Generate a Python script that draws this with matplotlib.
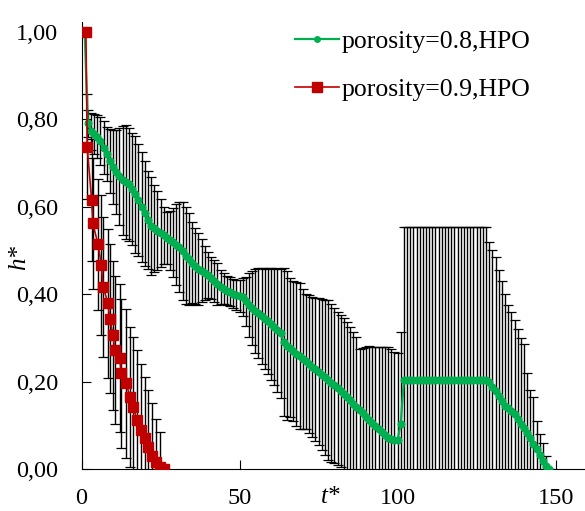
import numpy as np
import matplotlib
matplotlib.use("Agg")
import matplotlib.pyplot as plt

plt.rcParams['font.family'] = ['Liberation Serif', 'DejaVu Serif']

# porosity = 0.8 (green), one point per unit of t*
t_green = np.arange(1, 149)
h_green = [1.0, .79, .772, .766, .76, .75, .735, .72, .705, .691,
           .68, .669, .66, .656, .651, .64, .628, .614, .599, .585,
           .57, .556, .55, .545, .54, .534, .528, .523, .518, .513,
           .508, .498, .488, .48, .472, .465, .458, .453, .448, .443,
           .437, .43, .422, .416, .412, .408, .405, .401, .398, .396,
           .393, .383, .374, .368, .362, .356, .35, .343, .338, .332,
           .325, .318, .31, .29, .282, .277, .27, .263, .258, .252,
           .246, .24, .234, .228, .222, .216, .21, .203, .197, .191,
           .185, .179, .172, .165, .157, .149, .142, .135, .127, .12,
           .113, .106, .099, .092, .085, .078, .072, .068, .067, .066,
           .104,
           .203, .203, .203, .203, .203, .203, .203, .203, .203, .203,
           .203, .203, .203, .203, .203, .203, .203, .203, .203, .203,
           .203, .203, .203, .203, .203, .203, .203,
           .198, .188, .178, .167, .155, .145, .139, .133, .125, .115,
           .104, .094, .082, .07, .058, .045, .032, .018, .008, 0.0]
# upper end of the error bars (bars are symmetric)
h_green_up = [1.0, .82, .815, .812, .81, .805, .795, .782, .778, .775,
              .776, .78, .784, .786, .78, .768, .762, .742, .725, .705,
              .682, .668, .65, .635, .618, .60, .587, .59, .596, .605,
              .611, .61, .598, .585, .565, .552, .54, .525, .51, .495,
              .485, .478, .47, .455, .447, .442, .438, .434, .433, .433,
              .436, .44, .447, .453, .458, .459, .46, .458, .459, .46,
              .457, .459, .458, .459, .452, .436, .43, .427, .425, .412,
              .40, .397, .394, .392, .39, .388, .387, .386, .377, .368,
              .36, .353, .346, .336, .325, .314, .302, .274, .277, .28,
              .281, .28, .28, .279, .28, .28, .28, .275, .268, .265,
              .314,
              .554, .554, .554, .554, .554, .554, .554, .554, .554, .554,
              .554, .554, .554, .554, .554, .554, .554, .554, .554, .554,
              .554, .554, .554, .554, .554, .554, .554,
              .52, .50, .485, .455, .43, .40, .375, .358, .34, .32,
              .30, .285, .22, .18, .165, .11, .08, .06, .03, 0.0]

# porosity = 0.9 (red)
t_red = [1.4, 1.8, 3.2, 3.6, 5.2, 6.3, 6.8, 8.4, 8.9, 10.0, 10.5, 12.1,
         12.6, 14.2, 15.3, 16.3, 17.6, 18.9, 20.0, 21.0, 22.3, 23.6, 24.8, 26.1]
h_red = [1.0, .737, .615, .562, .514, .466, .417, .379, .344, .306, .272, .254,
         .219, .196, .165, .142, .112, .089, .07, .051, .03, .015, .005, 0.0]
err_red = [0, .12, .14, .15, .15, .16, .16, .17, .17, .17, .17, .17,
           .17, .17, .16, .16, .16, .15, .14, .13, .12, .10, .08, 0.0]

yticks = [0, 0.2, 0.4, 0.6, 0.8, 1.0]
ytick_labels = ["0,00", "0,20", "0,40", "0,60", "0,80", "1,00"]
xticks = [0, 50, 100, 150]

err_green = np.array(h_green_up) - np.array(h_green)

fig = plt.figure(figsize=(5.85, 5.11), dpi=100)
ax = fig.add_axes([81.5 / 585, 42 / 511, 1 - 81.5 / 585, 447 / 511])

ax.errorbar(t_green, h_green, yerr=err_green, fmt='none', ecolor='k',
            elinewidth=1.0, capsize=3.5, capthick=0.9, zorder=2)
ax.errorbar(t_red, h_red, yerr=err_red, fmt='none', ecolor='k',
            elinewidth=1.0, capsize=3.5, capthick=0.9, zorder=2)
ax.plot(t_green, h_green, '-o', color='#00B050', lw=1.6, ms=4.8,
        label='porosity=0.8,HPO', zorder=3)
ax.plot(t_red, h_red, '-s', color='#C00000', lw=1.2, ms=6.5,
        label='porosity=0.9,HPO', zorder=4)

ax.set_xlim(0, 159.3)
ax.set_ylim(0, 1.022)
ax.set_xticks(xticks)
ax.set_yticks(yticks)
ax.set_yticklabels(ytick_labels)
ax.tick_params(direction='in', length=6.5, width=0.8, labelsize=17.5)
ax.tick_params(axis='x', pad=14)
ax.tick_params(axis='y', pad=17)
for s in ['top', 'right']:
    ax.spines[s].set_visible(False)

ax.text(0.494, -0.063, 't*', transform=ax.transAxes, fontsize=18,
        style='italic', ha='center', va='center')
fig.text(19 / 585, 1 - 258 / 511, 'h*', fontsize=18, style='italic',
         rotation=90, ha='center', va='center')

leg = fig.legend(loc='upper left', bbox_to_anchor=(282 / 585, 1 - 17 / 511),
                 frameon=False, fontsize=18.5, handlelength=1.7,
                 handletextpad=0.12, labelspacing=0.98, borderpad=0)
leg.legend_handles[0].set_markersize(4.0)

fig.savefig('out.png', dpi=100)
